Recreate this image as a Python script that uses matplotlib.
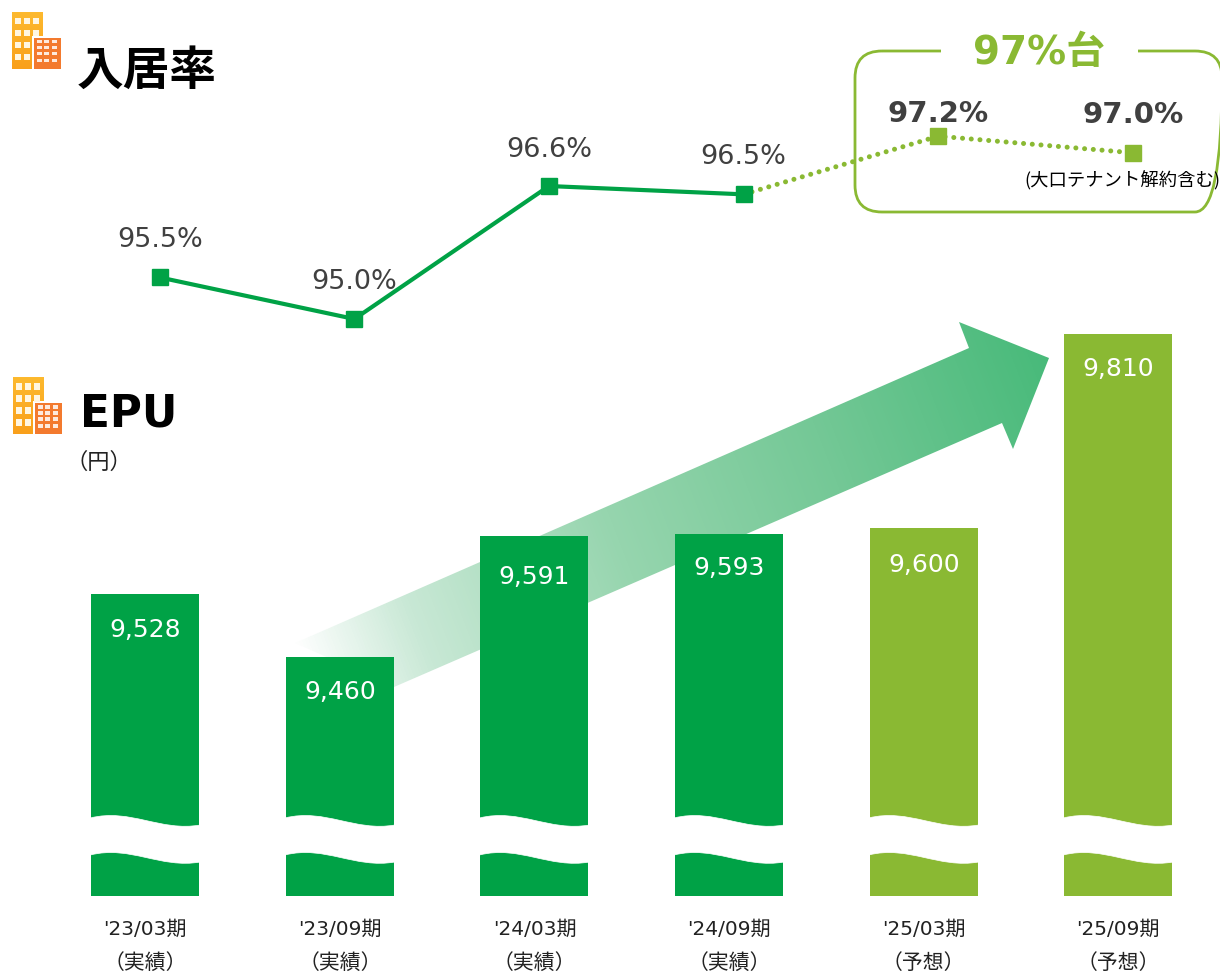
import numpy as np
import matplotlib
matplotlib.use('Agg')
import matplotlib.pyplot as plt
from matplotlib.colors import LinearSegmentedColormap
from matplotlib.patches import PathPatch, Polygon, FancyBboxPatch, Rectangle
from matplotlib.path import Path

plt.rcParams['font.family'] = ['DejaVu Sans', 'Noto Sans CJK JP']
JP = ['Noto Sans CJK JP', 'DejaVu Sans']

periods = ["'23/03期", "'23/09期", "'24/03期", "'24/09期", "'25/03期", "'25/09期"]
status = ['（実績）', '（実績）', '（実績）', '（実績）', '（予想）', '（予想）']
occupancy = [95.5, 95.0, 96.6, 96.5, 97.2, 97.0]
epu = [9528, 9460, 9591, 9593, 9600, 9810]

GREEN = '#00a246'
LIME = '#8ab933'
GREY = '#404040'
W, H = 1220, 972

fig = plt.figure(figsize=(W / 100, H / 100), dpi=100)

# pixel layer for the decorations
deco = fig.add_axes([0, 0, 1, 1], zorder=1)
deco.axis('off')

# bars and line each get a full-figure axes, scales fitted to the picture
STEP = 194.6
BAR_X0 = 145.3
LINE_X0 = 159.8
bar_ax = fig.add_axes([0, 0, 1, 1], zorder=2)
bar_ax.set_xlim(-BAR_X0 / STEP, (W - BAR_X0) / STEP)
PX_EPU = 0.923
bar_ax.set_ylim(9460 + (657 - H) / PX_EPU, 9460 + 657 / PX_EPU)
bar_ax.axis('off')

gap_ax = fig.add_axes([0, 0, 1, 1], zorder=2.5)
gap_ax.set_xlim(0, W)
gap_ax.set_ylim(H, 0)
gap_ax.axis('off')

line_ax = fig.add_axes([0, 0, 1, 1], zorder=3)
line_ax.set_xlim(-LINE_X0 / STEP, (W - LINE_X0) / STEP)
PX_OCC = 83.1
line_ax.set_ylim(95.0 + (319 - H) / PX_OCC, 95.0 + 319 / PX_OCC)
line_ax.axis('off')

# --- gradient arrow behind the bars
arrow_pts = [(295, 643), (969, 348), (959, 322), (1049, 358), (1013, 449), (1002, 423), (394, 687)]
cmap = LinearSegmentedColormap.from_list(
    'arr', [(0, '#ffffff'), (0.15, '#c8e8d5'), (0.42, '#96d5ae'), (0.7, '#74c896'), (1, '#48ba7a')], N=256)
dx, dy = 1049 - 295, 358 - 650
gx, gy = np.meshgrid(np.arange(280, 1060), np.arange(315, 700))
grad = ((gx - 295) * dx + (gy - 650) * dy) / (dx * dx + dy * dy)
im = deco.imshow(grad, extent=(280, 1060, 700, 315), cmap=cmap, vmin=0, vmax=1,
                 aspect='auto', origin='upper', zorder=1)
im.set_clip_path(Polygon(arrow_pts, closed=True, transform=deco.transData))

# --- bars
x = np.arange(len(epu))
bottom = 9460 + (657 - 896) / PX_EPU
colors = [GREEN] * 4 + [LIME] * 2
bar_ax.bar(x, np.array(epu) - bottom, bottom=bottom, width=108 / STEP, color=colors, zorder=2)
bar_off = [36, 35, 41, 34, 37, 35]
for i, v in enumerate(epu):
    bar_ax.annotate(f'{v:,}', (i, v), xytext=(0, -bar_off[i]), textcoords='offset pixels',
                    ha='center', va='center', color='white', fontsize=18, zorder=4)


# white wavy cut through every bar
def wave_gap(xc):
    l, r = xc - 55, xc + 55
    verts = [(l, 818), (l + 40, 808), (l + 70, 832), (r, 825),
             (r, 862), (l + 70, 869), (l + 40, 845), (l, 855), (l, 818)]
    codes = [Path.MOVETO, Path.CURVE4, Path.CURVE4, Path.CURVE4,
             Path.LINETO, Path.CURVE4, Path.CURVE4, Path.CURVE4, Path.CLOSEPOLY]
    return PathPatch(Path(verts, codes), fc='white', ec='white', lw=0.5, zorder=5)


for i in x:
    gap_ax.add_patch(wave_gap(BAR_X0 + STEP * i))

# --- occupancy line
DOTS = (0, (0.01, 1.74))
line_ax.plot(x[:4], occupancy[:4], color=GREEN, lw=3, marker='s', ms=11, mec=GREEN, mfc=GREEN,
             solid_capstyle='butt', zorder=4)
line_ax.plot(x[3:], occupancy[3:], color=LIME, lw=3.6, ls=DOTS, dash_capstyle='round', zorder=3)
line_ax.plot(x[4:], occupancy[4:], ls='none', marker='s', ms=11, mec=LIME, mfc=LIME, zorder=4)

label_off = [37, 37, 36, 37, 22, 38]
for i, v in enumerate(occupancy):
    bold = i >= 4
    line_ax.annotate(f'{v:.1f}%', (i, v), xytext=(0, label_off[i]), textcoords='offset pixels',
                     ha='center', va='center', color=GREY, fontsize=21 if bold else 19.5,
                     fontweight='bold' if bold else 'normal', zorder=6)

# --- rounded box around the forecast
box = FancyBboxPatch((855, 51), 367, 161, boxstyle='round,pad=0,rounding_size=27',
                     fc='none', ec=LIME, lw=2, zorder=2)
deco.add_patch(box)
deco.add_patch(Rectangle((941, 40), 197, 20, fc='white', ec='none', zorder=3))
deco.text(1039, 53, '97%台', ha='center', va='center', color=LIME, fontsize=28, fontweight='bold',
          zorder=4)
deco.text(1122.5, 181, '(大口テナント解約含む)', ha='center', va='center', family=JP, fontsize=13.2,
          color='black', zorder=4)


# --- small building icons
def building(ox, oy):
    deco.imshow(np.linspace(0, 1, 20).reshape(-1, 1), extent=(ox, ox + 31, oy + 57, oy),
                cmap=LinearSegmentedColormap.from_list('a', ['#fdb92e', '#f9a01b']), aspect='auto', zorder=4)
    deco.add_patch(Rectangle((ox + 20, oy + 24), 13, 34, fc='white', ec='none', zorder=4.5))
    deco.add_patch(Rectangle((ox + 22, oy + 26), 27, 31, fc='#f37a2e', ec='none', zorder=5))
    for cx in (3, 12, 21):
        for cy in (6, 18, 30, 42):
            if cx == 21 and cy > 18:
                continue
            deco.add_patch(Rectangle((ox + cx, oy + cy), 5.5, 6.5, fc='#fff6e2', ec='none', zorder=5))
    for cx in (25, 32, 40):
        for cy in (28, 34, 40, 47):
            deco.add_patch(Rectangle((ox + cx, oy + cy), 4.5, 3.5, fc='#fdeadd', ec='none', zorder=6))


building(12, 12)
building(13, 377)

deco.text(77, 71, '入居率', ha='left', va='center', family=JP, fontsize=33.6, fontweight='bold', color='black')
deco.text(80, 414, 'EPU', ha='left', va='center', fontsize=31.5, fontweight='bold', color='black')
deco.text(99, 462, '（円）', ha='center', va='center', family=JP, fontsize=16, color='#222222')

# --- category labels
for i, (p, s) in enumerate(zip(periods, status)):
    xc = BAR_X0 + STEP * i
    deco.text(xc, 929, p, ha='center', va='center', fontsize=14.5, color='#222222')
    deco.text(xc, 963, s, ha='center', va='center', family=JP, fontsize=15, color='#222222')

# imshow moves the limits, so fix them last
deco.set_xlim(0, W)
deco.set_ylim(H, 0)

fig.savefig('out.png', dpi=100, facecolor='white')
